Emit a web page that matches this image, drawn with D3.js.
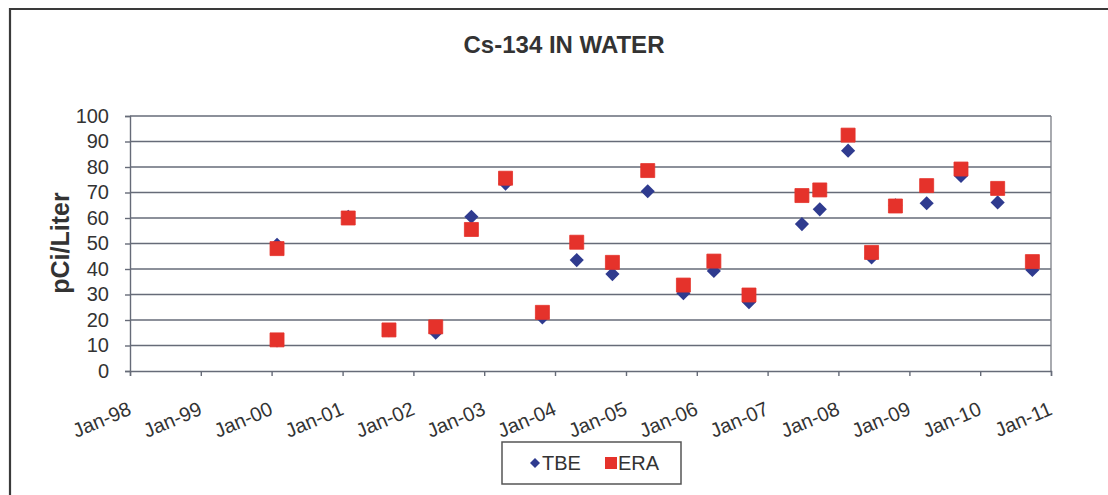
<!DOCTYPE html>
<html>
<head>
<meta charset="utf-8">
<script src="https://cdn.jsdelivr.net/npm/d3@7"></script>
<style>
  html, body { margin: 0; padding: 0; background: #fff; }
  svg { display: block; }
  text { font-family: Arial, "Liberation Sans", sans-serif; fill: #333; }
</style>
</head>
<body>
<svg id="chart" width="1108" height="495"></svg>
<script>
// ---- data ----
const sampleDates = [
  "2000-01-29", "2000-01-29", "2001-01-30", "2001-08-28", "2002-04-26",
  "2002-10-27", "2003-04-21", "2003-10-28", "2004-04-22", "2004-10-23",
  "2005-04-23", "2005-10-24", "2006-03-30", "2006-09-27", "2007-06-27",
  "2007-09-27", "2008-02-20", "2008-06-20", "2008-10-21", "2009-03-31",
  "2009-09-24", "2010-04-01", "2010-09-27"
];
const tbeValues = [
  49.5, 12, 60.5, 16, 15,
  60.5, 73.5, 21, 43.5, 38,
  70.5, 30.5, 39.2, 27, 57.6,
  63.4, 86.4, 44.5, 65, 65.8,
  76.5, 66.1, 39.6
];
const eraValues = [
  48, 12.2, 60, 16.1, 17.3,
  55.5, 75.6, 23, 50.5, 42.6,
  78.6, 33.7, 43.1, 29.8, 68.8,
  71, 92.5, 46.5, 64.7, 72.7,
  79.2, 71.6, 42.9
];
const yTicks = [0, 10, 20, 30, 40, 50, 60, 70, 80, 90, 100];
const xTickLabels = ["Jan-98","Jan-99","Jan-00","Jan-01","Jan-02","Jan-03","Jan-04","Jan-05","Jan-06","Jan-07","Jan-08","Jan-09","Jan-10","Jan-11"];
const titleText = "Cs-134 IN WATER";
const yAxisTitle = "pCi/Liter";
const seriesNames = ["TBE", "ERA"];

// ---- layout ----
const svg = d3.select("#chart");
const plot = { left: 130, right: 1051, top: 116, bottom: 371 };
const parse = d3.timeParse("%Y-%m-%d");
const dates = sampleDates.map(parse);
const xTickDates = xTickLabels.map((_, i) => new Date(1998 + i, 0, 1));

const x = d3.scaleTime()
  .domain([new Date(1998, 0, 1), new Date(2011, 0, 1)])
  .range([plot.left, plot.right]);
const y = d3.scaleLinear().domain([0, 100]).range([plot.bottom, plot.top]);

const gridColor = "#666b78";

// outer frame
svg.append("path")
  .attr("d", "M10,500 L10,9 L1110,9")
  .attr("fill", "none").attr("stroke", "#3a3a3a").attr("stroke-width", 2.2);

// gridlines
svg.append("g").selectAll("line").data(yTicks.filter(d => d > 0)).join("line")
  .attr("x1", plot.left).attr("x2", plot.right)
  .attr("y1", d => y(d)).attr("y2", d => y(d))
  .attr("stroke", gridColor).attr("stroke-width", 1.4);

// right border of plot area
svg.append("line")
  .attr("x1", plot.right).attr("x2", plot.right)
  .attr("y1", plot.top).attr("y2", plot.bottom)
  .attr("stroke", "#7a7d85").attr("stroke-width", 1.3);

// y axis
const yAxis = d3.axisLeft(y).tickValues(yTicks).tickSize(5).tickPadding(16).tickFormat(d3.format("d"));
const gy = svg.append("g").attr("transform", `translate(${plot.left},0)`).call(yAxis);
gy.select(".domain").attr("stroke", gridColor).attr("stroke-width", 1.4);
gy.selectAll(".tick line").attr("stroke", gridColor).attr("stroke-width", 1.4);
gy.selectAll(".tick text").attr("font-size", 20).attr("fill", "#333")
  .style("font-family", "Arial, 'Liberation Sans', sans-serif");

// x axis
const xAxis = d3.axisBottom(x).tickValues(xTickDates).tickSize(5)
  .tickFormat((d, i) => xTickLabels[i]);
const gx = svg.append("g").attr("transform", `translate(0,${plot.bottom})`).call(xAxis);
gx.select(".domain").attr("stroke", gridColor).attr("stroke-width", 1.4);
gx.selectAll(".tick line").attr("stroke", gridColor).attr("stroke-width", 1.4);
gx.selectAll(".tick text")
  .attr("font-size", 20).attr("fill", "#333")
  .style("font-family", "Arial, 'Liberation Sans', sans-serif")
  .attr("text-anchor", "end")
  .attr("dy", null)
  .attr("y", 0)
  .attr("transform", "translate(2,43) rotate(-23)");

// title
svg.append("text")
  .attr("x", 564).attr("y", 53)
  .attr("text-anchor", "middle")
  .attr("font-size", 24).attr("font-weight", "bold")
  .text(titleText);

// y axis title
svg.append("text")
  .attr("transform", "translate(69,243) rotate(-90)")
  .attr("text-anchor", "middle")
  .attr("font-size", 25).attr("font-weight", "bold")
  .text(yAxisTitle);

// markers
const diamond = d3.symbol().type(d3.symbolSquare).size(100);
const square = d3.symbol().type(d3.symbolSquare).size(196);
const blue = "#2f3b8f", red = "#e5322b";

svg.append("g").selectAll("path").data(tbeValues).join("path")
  .attr("d", diamond)
  .attr("transform", (d, i) => `translate(${x(dates[i])},${y(d)}) rotate(45)`)
  .attr("fill", blue);

svg.append("g").selectAll("path").data(eraValues).join("path")
  .attr("d", square)
  .attr("transform", (d, i) => `translate(${x(dates[i])},${y(d)})`)
  .attr("fill", red)
  .attr("stroke", red).attr("stroke-width", 0.8).attr("stroke-linejoin", "round");

// legend
const lg = svg.append("g");
lg.append("rect").attr("x", 502).attr("y", 442).attr("width", 179).attr("height", 42)
  .attr("fill", "#fff").attr("stroke", "#555").attr("stroke-width", 1.5);
lg.append("path").attr("d", d3.symbol().type(d3.symbolSquare).size(50))
  .attr("transform", "translate(535,463) rotate(45)").attr("fill", blue);
lg.append("text").attr("x", 542).attr("y", 470).attr("font-size", 20).text(seriesNames[0]);
lg.append("rect").attr("x", 605).attr("y", 457).attr("width", 12).attr("height", 12).attr("fill", red);
lg.append("text").attr("x", 618).attr("y", 470).attr("font-size", 20).text(seriesNames[1]);
</script>
</body>
</html>
